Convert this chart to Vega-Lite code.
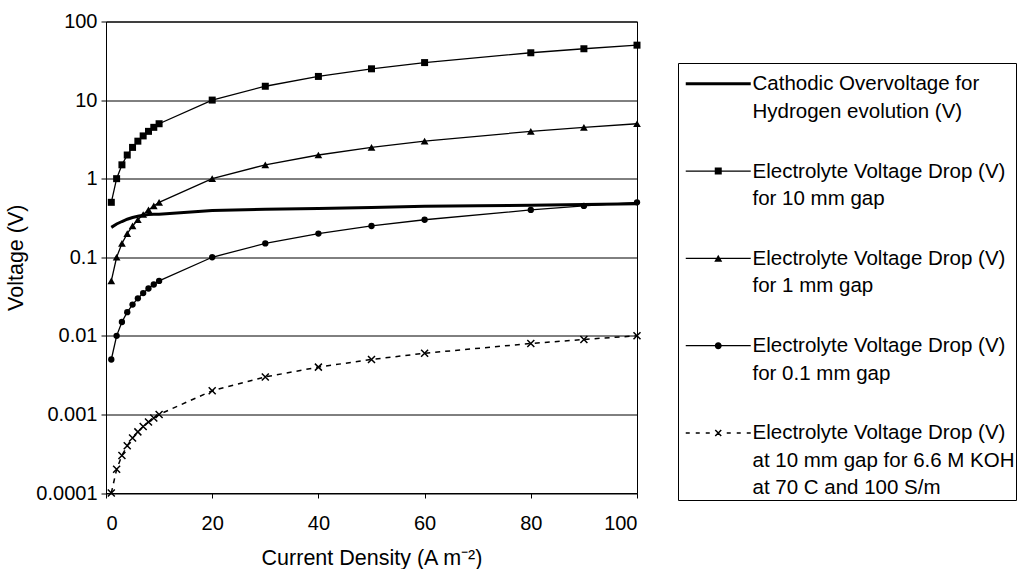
{
  "$schema": "https://vega.github.io/schema/vega-lite/v6.json",
  "width": 531,
  "height": 471.5,
  "autosize": {"type": "none"},
  "padding": {"left": 106, "top": 21.5, "right": 388, "bottom": 76},
  "background": "white",
  "config": {
    "font": "Liberation Sans",
    "view": {"stroke": "black", "strokeWidth": 1},
    "style": {"guide-label": {"lineHeight": 27.5}},
    "axis": {
      "labelFont": "Liberation Sans", "labelFontSize": 20, "labelColor": "black",
      "titleFont": "Liberation Sans", "titleFontSize": 21.5, "titleFontWeight": "normal", "titleColor": "black",
      "domainColor": "black", "tickColor": "black", "tickSize": 5, "gridColor": "black", "gridWidth": 1
    }
  },
  "data": {"values": [
    {"series": "cat", "j": 1, "voltage": 0.24}, {"series": "cat", "j": 2, "voltage": 0.265}, {"series": "cat", "j": 3, "voltage": 0.285},
    {"series": "cat", "j": 4, "voltage": 0.305}, {"series": "cat", "j": 5, "voltage": 0.32}, {"series": "cat", "j": 6, "voltage": 0.333},
    {"series": "cat", "j": 7, "voltage": 0.343}, {"series": "cat", "j": 8, "voltage": 0.35}, {"series": "cat", "j": 9, "voltage": 0.353},
    {"series": "cat", "j": 10, "voltage": 0.352}, {"series": "cat", "j": 20, "voltage": 0.393}, {"series": "cat", "j": 30, "voltage": 0.408},
    {"series": "cat", "j": 40, "voltage": 0.418}, {"series": "cat", "j": 50, "voltage": 0.43}, {"series": "cat", "j": 60, "voltage": 0.445},
    {"series": "cat", "j": 70, "voltage": 0.452}, {"series": "cat", "j": 80, "voltage": 0.46}, {"series": "cat", "j": 90, "voltage": 0.47},
    {"series": "cat", "j": 100, "voltage": 0.48},

    {"series": "r10", "j": 1, "voltage": 0.5}, {"series": "r10", "j": 2, "voltage": 1}, {"series": "r10", "j": 3, "voltage": 1.5},
    {"series": "r10", "j": 4, "voltage": 2}, {"series": "r10", "j": 5, "voltage": 2.5}, {"series": "r10", "j": 6, "voltage": 3},
    {"series": "r10", "j": 7, "voltage": 3.5}, {"series": "r10", "j": 8, "voltage": 4}, {"series": "r10", "j": 9, "voltage": 4.5},
    {"series": "r10", "j": 10, "voltage": 5}, {"series": "r10", "j": 20, "voltage": 10}, {"series": "r10", "j": 30, "voltage": 15},
    {"series": "r10", "j": 40, "voltage": 20}, {"series": "r10", "j": 50, "voltage": 25}, {"series": "r10", "j": 60, "voltage": 30},
    {"series": "r10", "j": 80, "voltage": 40}, {"series": "r10", "j": 90, "voltage": 45}, {"series": "r10", "j": 100, "voltage": 50},

    {"series": "r1", "j": 1, "voltage": 0.05}, {"series": "r1", "j": 2, "voltage": 0.1}, {"series": "r1", "j": 3, "voltage": 0.15},
    {"series": "r1", "j": 4, "voltage": 0.2}, {"series": "r1", "j": 5, "voltage": 0.25}, {"series": "r1", "j": 6, "voltage": 0.3},
    {"series": "r1", "j": 7, "voltage": 0.35}, {"series": "r1", "j": 8, "voltage": 0.4}, {"series": "r1", "j": 9, "voltage": 0.45},
    {"series": "r1", "j": 10, "voltage": 0.5}, {"series": "r1", "j": 20, "voltage": 1}, {"series": "r1", "j": 30, "voltage": 1.5},
    {"series": "r1", "j": 40, "voltage": 2}, {"series": "r1", "j": 50, "voltage": 2.5}, {"series": "r1", "j": 60, "voltage": 3},
    {"series": "r1", "j": 80, "voltage": 4}, {"series": "r1", "j": 90, "voltage": 4.5}, {"series": "r1", "j": 100, "voltage": 5},

    {"series": "r01", "j": 1, "voltage": 0.005}, {"series": "r01", "j": 2, "voltage": 0.01}, {"series": "r01", "j": 3, "voltage": 0.015},
    {"series": "r01", "j": 4, "voltage": 0.02}, {"series": "r01", "j": 5, "voltage": 0.025}, {"series": "r01", "j": 6, "voltage": 0.03},
    {"series": "r01", "j": 7, "voltage": 0.035}, {"series": "r01", "j": 8, "voltage": 0.04}, {"series": "r01", "j": 9, "voltage": 0.045},
    {"series": "r01", "j": 10, "voltage": 0.05}, {"series": "r01", "j": 20, "voltage": 0.1}, {"series": "r01", "j": 30, "voltage": 0.15},
    {"series": "r01", "j": 40, "voltage": 0.2}, {"series": "r01", "j": 50, "voltage": 0.25}, {"series": "r01", "j": 60, "voltage": 0.3},
    {"series": "r01", "j": 80, "voltage": 0.4}, {"series": "r01", "j": 90, "voltage": 0.45}, {"series": "r01", "j": 100, "voltage": 0.5},

    {"series": "koh", "j": 1, "voltage": 0.0001}, {"series": "koh", "j": 2, "voltage": 0.0002}, {"series": "koh", "j": 3, "voltage": 0.0003},
    {"series": "koh", "j": 4, "voltage": 0.0004}, {"series": "koh", "j": 5, "voltage": 0.0005}, {"series": "koh", "j": 6, "voltage": 0.0006},
    {"series": "koh", "j": 7, "voltage": 0.0007}, {"series": "koh", "j": 8, "voltage": 0.0008}, {"series": "koh", "j": 9, "voltage": 0.0009},
    {"series": "koh", "j": 10, "voltage": 0.001}, {"series": "koh", "j": 20, "voltage": 0.002}, {"series": "koh", "j": 30, "voltage": 0.003},
    {"series": "koh", "j": 40, "voltage": 0.004}, {"series": "koh", "j": 50, "voltage": 0.005}, {"series": "koh", "j": 60, "voltage": 0.006},
    {"series": "koh", "j": 80, "voltage": 0.008}, {"series": "koh", "j": 90, "voltage": 0.009}, {"series": "koh", "j": 100, "voltage": 0.01}
  ]},
  "encoding": {
    "x": {"field": "j", "type": "quantitative", "scale": {"domain": [0, 100], "nice": false},
      "axis": {"values": [0, 20, 40, 60, 80, 100], "grid": false, "title": "Current Density (A m⁻²)", "labelPadding": 15, "titlePadding": 14}},
    "y": {"field": "voltage", "type": "quantitative", "scale": {"type": "log", "domain": [0.0001, 100], "nice": false},
      "axis": {"values": [0.0001, 0.001, 0.01, 0.1, 1, 10, 100], "format": "~g", "grid": true, "title": "Voltage (V)", "labelPadding": 4, "titlePadding": 8}}
  },
  "layer": [
    {"transform": [{"filter": "datum.series == 'cat'"}],
     "mark": {"type": "line", "color": "black", "strokeWidth": 3}},
    {"transform": [{"filter": "datum.series == 'r10' || datum.series == 'r1' || datum.series == 'r01'"}],
     "mark": {"type": "line", "color": "black", "strokeWidth": 1.3},
     "encoding": {"detail": {"field": "series"}}},
    {"transform": [{"filter": "datum.series == 'koh'"}],
     "mark": {"type": "line", "color": "black", "strokeWidth": 1.5, "strokeDash": [5, 5]}},
    {"transform": [{"filter": "datum.series == 'r10'"}],
     "mark": {"type": "point", "shape": "square", "filled": true, "color": "black", "opacity": 1, "size": 49}},
    {"transform": [{"filter": "datum.series == 'r1'"}],
     "mark": {"type": "point", "shape": "triangle-up", "filled": true, "color": "black", "opacity": 1, "size": 60}},
    {"transform": [{"filter": "datum.series == 'r01'"}],
     "mark": {"type": "point", "shape": "circle", "filled": true, "color": "black", "opacity": 1, "size": 40}},
    {"transform": [{"filter": "datum.series == 'koh'"}],
     "mark": {"type": "point", "shape": "M-1,-1L1,1M-1,1L1,-1", "filled": false, "color": "black", "opacity": 1, "size": 49, "strokeWidth": 1.5}},
    {"transform": [{"filter": "datum.j < 0"}],
     "mark": {"type": "point", "filled": true, "color": "black", "opacity": 1},
     "encoding": {
       "shape": {"field": "series", "type": "nominal",
         "scale": {"domain": ["cat", "r10", "r1", "r01", "koh"],
           "range": [
             "M-1,2.285H17.57V3.143H-1Z",
             "M-1,2.528H17.57V2.9H-1ZM7.286,1.714H9.286V3.714H7.286Z",
             "M-1,2.528H17.57V2.9H-1ZM8.286,1.714L9.429,3.714L7.143,3.714Z",
             "M-1,2.528H17.57V2.9H-1ZM9.286,2.714A1,1 0 1,1 7.286,2.714A1,1 0 1,1 9.286,2.714Z",
             "M-1,2.5H0.143V2.928H-1ZM1.857,2.5H3V2.928H1.857ZM4.714,2.5H5.857V2.928H4.714ZM10.714,2.5H11.857V2.928H10.714ZM13.571,2.5H14.714V2.928H13.571ZM16.43,2.5H17.57V2.928H16.43ZM7.586,1.714L9.286,3.414L8.986,3.714L7.286,2.014ZM8.986,1.714L9.286,2.014L7.586,3.714L7.286,3.414Z"
           ]},
         "legend": {
           "orient": "none", "legendX": 572, "legendY": 41.5, "title": null,
           "strokeColor": "black", "fillColor": "white", "padding": 1,
           "symbolSize": 49, "symbolStrokeWidth": 0, "symbolFillColor": "black", "symbolOpacity": 1,
           "labelFont": "Liberation Sans", "labelFontSize": 20.5, "labelColor": "black", "labelLimit": 500,
           "labelOffset": 53, "labelBaseline": "top", "rowPadding": 28.3,
           "labelExpr": "datum.label == 'cat' ? ['Cathodic Overvoltage for', 'Hydrogen evolution (V)'] : datum.label == 'r10' ? ['Electrolyte Voltage Drop (V)', 'for 10 mm gap'] : datum.label == 'r1' ? ['Electrolyte Voltage Drop (V)', 'for 1 mm gap'] : datum.label == 'r01' ? ['Electrolyte Voltage Drop (V)', 'for 0.1 mm gap'] : ['Electrolyte Voltage Drop (V)', 'at 10 mm gap for 6.6 M KOH', 'at 70 C and 100 S/m']"
         }}
     }}
  ]
}
